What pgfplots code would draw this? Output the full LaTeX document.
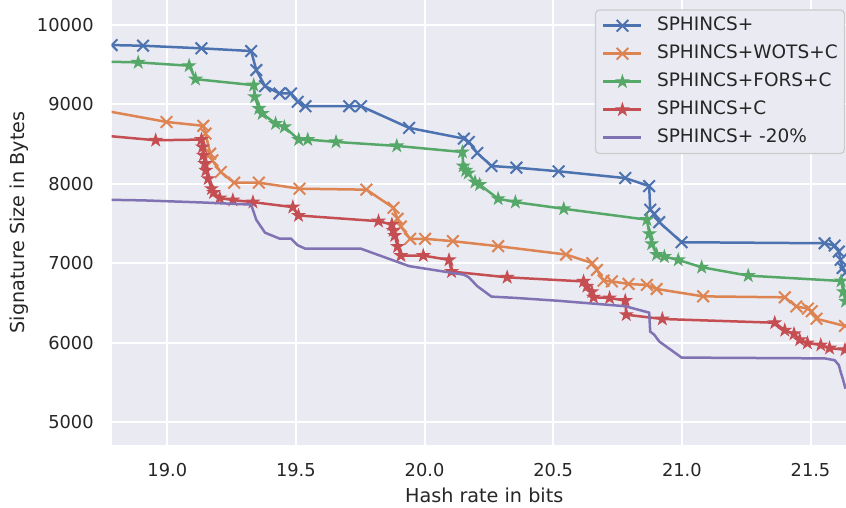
\documentclass[border=0pt]{standalone}
\usepackage{fontspec}
\setmainfont{DejaVu Sans}
\usepackage{pgfplots}
\pgfplotsset{compat=1.18}
\definecolor{sbblue}{HTML}{4C72B0}
\definecolor{sborange}{HTML}{DD8452}
\definecolor{sbgreen}{HTML}{55A868}
\definecolor{sbred}{HTML}{C44E52}
\definecolor{sbpurple}{HTML}{8172B3}
\definecolor{bg}{HTML}{EAEAF2}
\definecolor{tc}{HTML}{262626}
\definecolor{lgborder}{HTML}{CCCCCC}
\pgfdeclareplotmark{fstar}{%
  \pgfpathmoveto{\pgfqpoint{0pt}{\pgfplotmarksize}}%
  \pgfpathlineto{\pgfqpoint{-0.2245\pgfplotmarksize}{0.309\pgfplotmarksize}}%
  \pgfpathlineto{\pgfqpoint{-0.951\pgfplotmarksize}{0.309\pgfplotmarksize}}%
  \pgfpathlineto{\pgfqpoint{-0.3633\pgfplotmarksize}{-0.118\pgfplotmarksize}}%
  \pgfpathlineto{\pgfqpoint{-0.588\pgfplotmarksize}{-0.809\pgfplotmarksize}}%
  \pgfpathlineto{\pgfqpoint{0pt}{-0.382\pgfplotmarksize}}%
  \pgfpathlineto{\pgfqpoint{0.588\pgfplotmarksize}{-0.809\pgfplotmarksize}}%
  \pgfpathlineto{\pgfqpoint{0.3633\pgfplotmarksize}{-0.118\pgfplotmarksize}}%
  \pgfpathlineto{\pgfqpoint{0.951\pgfplotmarksize}{0.309\pgfplotmarksize}}%
  \pgfpathlineto{\pgfqpoint{0.2245\pgfplotmarksize}{0.309\pgfplotmarksize}}%
  \pgfpathclose
  \pgfusepathqfillstroke}
\begin{document}
\begin{tikzpicture}
\begin{axis}[
  name=ax,
  width=367.15pt, height=222.5pt, scale only axis,
  xmin=18.784, xmax=21.638, ymin=4710, ymax=10315,
  axis background/.style={fill=bg},
  axis line style={draw=none},
  grid=major, major grid style={white, line width=1pt},
  major tick length=0pt,
  xtick={19,19.5,20,20.5,21,21.5},
  ytick={5000,6000,7000,8000,9000,10000},
  scaled y ticks=false, scaled x ticks=false,
  /pgf/number format/assume math mode=true,
  xticklabel style={/pgf/number format/.cd, fixed, fixed zerofill, precision=1, /tikz/.cd,
    anchor=base, yshift=-15.85pt, font=\fontsize{8.9}{10}\selectfont, text=tc},
  yticklabel style={/pgf/number format/.cd, fixed, 1000 sep={}, /tikz/.cd, anchor=east, inner sep=0pt,
    xshift=-8.85pt, font=\fontsize{8.9}{10}\selectfont, text=tc},
  xlabel={Hash rate in bits},
  ylabel={Signature Size in Bytes},
  xlabel style={at={(axis description cs:0.5073,0)}, anchor=base, yshift=-28.85pt,
    font=\fontsize{9.6}{11}\selectfont, text=tc},
  ylabel style={at={(axis description cs:-0.119,0.5)}, anchor=base,
    font=\fontsize{9.6}{11}\selectfont, text=tc},
  clip marker paths=true,
  legend cell align=left,
  legend image code/.code={%
    \draw[mark repeat=2,mark phase=2] plot coordinates {(0pt,0pt) (9.5pt,0pt) (19pt,0pt)};
    \path (26.2pt,0pt);},
  legend style={at={(0.9986,0.979)}, anchor=north east, draw=lgborder, line width=0.6pt,
    fill=bg, rounded corners=2pt, inner xsep=3.35pt, inner ysep=3.6pt,
    font=\fontsize{9.25}{10}\selectfont, text=tc,
    nodes={inner sep=0pt, text height=6.7pt, text depth=1.9pt},
    row sep=5.4pt},
]
% SPHINCS+
\addplot[sbblue, line width=1.25pt, mark=x, mark size=4.1pt, mark options={line width=1pt, solid}] coordinates {
(18.784,9747) (18.906,9739) (19.133,9706) (19.326,9672) (19.346,9432) (19.380,9230)
(19.436,9138) (19.481,9138) (19.507,9032) (19.537,8977) (19.707,8977) (19.753,8977)
(19.940,8704) (20.153,8569) (20.172,8527) (20.205,8388) (20.260,8224) (20.357,8203)
(20.521,8157) (20.780,8072) (20.873,7971) (20.877,7673) (20.893,7622) (20.912,7517)
(20.999,7264) (21.555,7251) (21.594,7222) (21.610,7146) (21.617,7041) (21.625,6940)
(21.636,6880)
};
\addlegendentry{SPHINCS+}
% SPHINCS+WOTS+C
\addplot[sborange, line width=1.25pt, mark=x, mark size=4.1pt, mark options={line width=1pt, solid}] coordinates {
(18.700,8955) (18.997,8779) (19.140,8730) (19.149,8633) (19.167,8380) (19.175,8295)
(19.208,8148) (19.260,8014) (19.356,8014) (19.514,7938) (19.774,7926) (19.879,7698)
(19.895,7559) (19.908,7462) (19.944,7307) (20.002,7307) (20.110,7277) (20.286,7214)
(20.550,7109) (20.652,7000) (20.670,6915) (20.696,6780) (20.728,6771) (20.793,6738)
(20.864,6726) (20.902,6675) (21.083,6582) (21.400,6570) (21.445,6455) (21.490,6428)
(21.505,6395) (21.523,6300) (21.634,6209)
};
\addlegendentry{SPHINCS+WOTS+C}
% SPHINCS+FORS+C
\addplot[sbgreen, line width=1.25pt, mark=fstar, mark size=3pt, mark options={fill=sbgreen, line width=0.6pt, solid}] coordinates {
(18.700,9543) (18.887,9529) (19.085,9487) (19.110,9318) (19.336,9242) (19.340,9095)
(19.356,8948) (19.369,8885) (19.421,8759) (19.455,8716) (19.511,8557) (19.546,8557)
(19.656,8527) (19.892,8477) (20.147,8400) (20.150,8224) (20.160,8169) (20.170,8135)
(20.196,8022) (20.214,7989) (20.286,7812) (20.353,7769) (20.541,7685) (20.864,7548)
(20.874,7370) (20.883,7244) (20.902,7109) (20.932,7083) (20.986,7041) (21.077,6949)
(21.258,6843) (21.619,6776) (21.628,6640) (21.636,6520)
};
\addlegendentry{SPHINCS+FORS+C}
% SPHINCS+C
\addplot[sbred, line width=1.25pt, mark=fstar, mark size=3pt, mark options={fill=sbred, line width=0.6pt, solid}] coordinates {
(18.700,8623) (18.955,8548) (19.133,8557) (19.137,8463) (19.140,8359) (19.146,8253)
(19.150,8169) (19.159,8064) (19.172,7938) (19.180,7890) (19.204,7820) (19.255,7795)
(19.333,7769) (19.488,7706) (19.510,7601) (19.821,7529) (19.873,7487) (19.878,7412)
(19.884,7348) (19.895,7210) (19.908,7096) (19.995,7096) (20.095,7041) (20.105,6894)
(20.321,6822) (20.618,6770) (20.631,6710) (20.650,6640) (20.657,6570) (20.719,6562)
(20.780,6528) (20.784,6351) (20.924,6297) (21.361,6250) (21.400,6155) (21.436,6110)
(21.458,6035) (21.488,5995) (21.540,5969) (21.574,5930) (21.634,5910)
};
\addlegendentry{SPHINCS+C}
% SPHINCS+ -20%
\addplot[sbpurple, line width=1.25pt, no marks] coordinates {
(18.784,7798) (18.906,7791) (19.133,7765) (19.326,7738) (19.346,7546) (19.380,7384)
(19.436,7310) (19.481,7310) (19.507,7226) (19.537,7182) (19.707,7182) (19.753,7182)
(19.940,6963) (20.153,6855) (20.172,6822) (20.205,6710) (20.260,6579) (20.357,6562)
(20.521,6526) (20.780,6458) (20.873,6377) (20.877,6138) (20.893,6098) (20.912,6014)
(20.999,5811) (21.555,5801) (21.594,5778) (21.610,5717) (21.617,5633) (21.625,5550)
(21.636,5420)
};
\addlegendentry{SPHINCS+ -20\%}
\end{axis}
\pgfresetboundingbox
\path[use as bounding box] (ax.south west) ++(-55.85pt,-31.5pt) rectangle (ax.north east);
\end{tikzpicture}
\end{document}
